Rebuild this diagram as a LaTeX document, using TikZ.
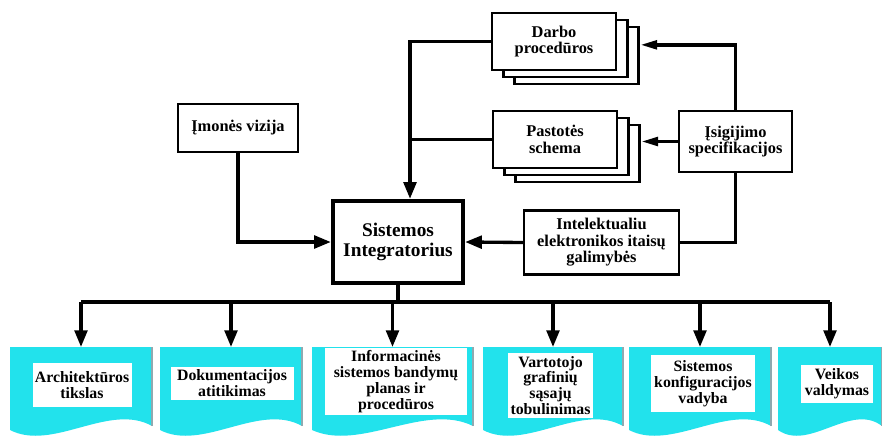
\documentclass[tikz,border=0pt]{standalone}
\usepackage{fontspec}
\setmainfont{Liberation Serif}
\usetikzlibrary{arrows.meta,shadows,calc}
\definecolor{ink}{HTML}{000000}
\definecolor{docfill}{HTML}{22E2EC}
\definecolor{docedge}{HTML}{8FA9B0}
\tikzset{
  block/.style={draw=ink, fill=white, line width=0.85mm, align=center, inner sep=2pt,
                font=\fontsize{14}{14}\selectfont\bfseries},
  stack/.style={block, double copy shadow={shadow xshift=3.4mm, shadow yshift=-2.1mm}},
  core/.style={block, line width=1.3mm, font=\fontsize{16.5}{17}\selectfont\bfseries},
  wire/.style={line width=1mm, draw=ink},
  arrow/.style={wire, -{Triangle[length=5mm,width=3.8mm]}},
  slim arrow/.style={wire, -{Triangle[length=5mm,width=2.6mm]}},
  docpage/.style={fill=docfill},
  docside/.style={draw=docedge, line width=0.4mm},
  doctext/.style={fill=white, align=center, inner sep=1pt,
                  font=\fontsize{13.5}{13.5}\selectfont\bfseries}
}

\begin{document}
\begin{tikzpicture}[x=0.3mm,y=-0.3mm]
  \useasboundingbox (0,0) rectangle (882,435);

  % cyan result pages
  \foreach \xa/\xb [count=\i] in {10/152, 160/302, 312/473, 483/623, 629/771, 778/882} {
    \pgfmathsetmacro\w{\xb-\xa}
    \fill[docpage] (\xa,347) -- (\xb,347) -- (\xb,426)
      .. controls (\xb-0.3*\w,402) and (\xa+0.3*\w,452) .. (\xa,430) -- cycle;
    \draw[docside] (\xb,347) -- (\xb,426);
    \coordinate (d\i) at ({(\xa+\xb)/2},347);
  }

  \node[doctext, minimum width=29.7mm, minimum height=13.2mm] (arch)   at (82,385)    {Architektūros\\tikslas};
  \node[doctext, minimum width=36.9mm, minimum height=9.9mm]  (dok)    at (232,383)   {Dokumentacijos\\atitikimas};
  \node[doctext, minimum width=42.6mm, minimum height=20.1mm] (info)   at (396,381.5) {Informacinės\\sistemos bandymų\\planas ir\\procedūros};
  \node[doctext, minimum width=25.5mm, minimum height=19.5mm] (vart)   at (550.5,385.5) {Vartotojo\\grafinių\\sąsajų\\tobulinimas};
  \node[doctext, minimum width=31.2mm, minimum height=17.1mm] (konf)   at (703,383.5) {Sistemos\\konfiguracijos\\vadyba};
  \node[doctext, minimum width=21.6mm, minimum height=11.4mm] (veikos) at (837,384)   {Veikos\\valdymas};

  % upper blocks
  \node[block, minimum width=36mm, minimum height=14.4mm] (vizija) at (238,128) {Įmonės vizija};
  \node[stack, minimum width=37.2mm, minimum height=17.1mm] (darbo) at (554,41.5) {Darbo\\procedūros};
  \node[stack, minimum width=37.2mm, minimum height=17.1mm] (pastotes) at (555,139.5) {Pastotės\\schema};
  \node[block, line width=0.7mm, minimum width=33.9mm, minimum height=18.3mm] (isig) at (735.5,141.5) {Įsigijimo\\specifikacijos};
  \node[block, line width=0.7mm, minimum width=46.5mm, minimum height=19.2mm] (intel) at (601.5,242.5) {Intelektualiu\\elektronikos itaisų\\galimybės};
  \node[core, minimum width=39mm, minimum height=24.6mm] (integ) at (398,242) {Sistemos\\Integratorius};

  % inputs
  \coordinate (trunk) at ([xshift=3.6mm]integ.north);
  \coordinate (darbo back) at ([xshift=6.9mm,yshift=-1mm]darbo.east);
  \coordinate (pastotes back) at ([xshift=6.9mm]pastotes.east);
  \draw[arrow] (darbo.west) -| (trunk);
  \draw[wire, line width=0.7mm] (pastotes.west) -- (pastotes.west -| trunk);
  \draw[arrow] (vizija.south) |- (integ.west);
  \draw[arrow] (intel.west) -- (integ.east);
  \draw[wire] (isig.south) |- (intel.east);
  \draw[slim arrow] (isig.north) |- (darbo back);
  \draw[slim arrow] (isig.west) -- (isig.west -| pastotes back);

  % outputs
  \coordinate (hub) at ([yshift=-5.1mm]integ.south);
  \draw[wire] (integ.south) -- (hub);
  \draw[wire, line width=1.2mm] (d1 |- hub) -- (d6 |- hub);
  \foreach \i in {1,...,6}
    \draw[arrow] (d\i |- hub) -- (d\i);
\end{tikzpicture}
\end{document}
